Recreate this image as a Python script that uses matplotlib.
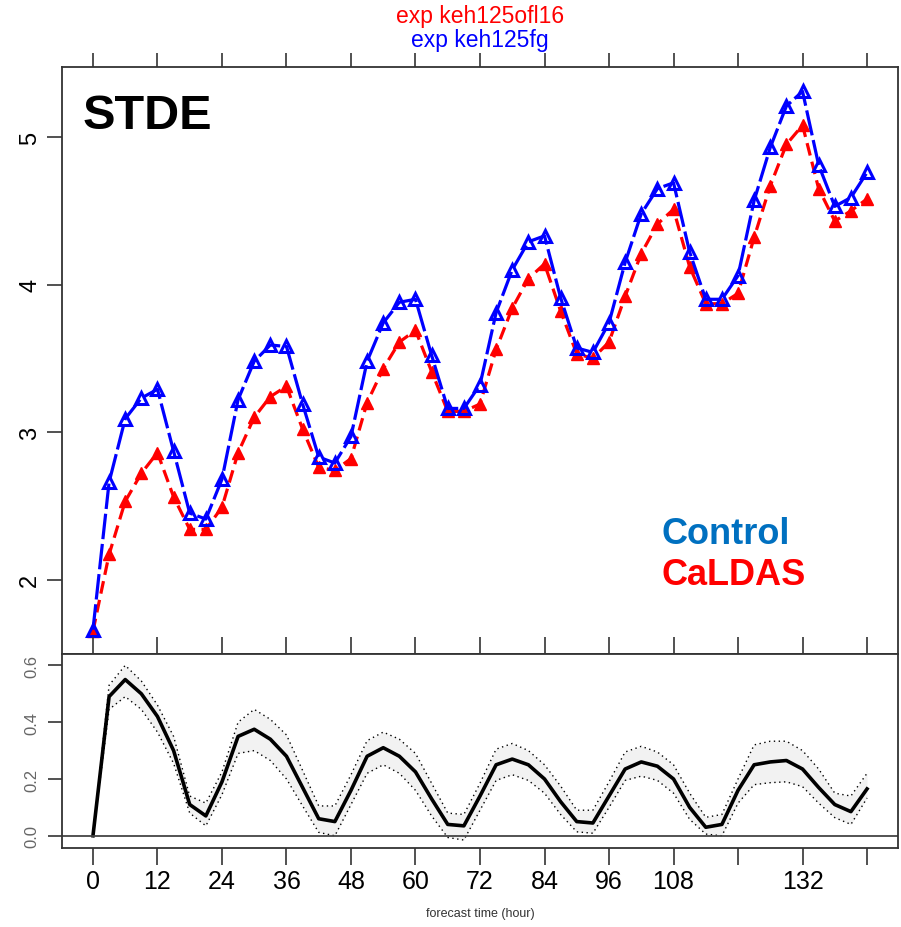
import numpy as np
import matplotlib
matplotlib.use("Agg")
import matplotlib.pyplot as plt

plt.rcParams['font.family'] = ['Liberation Sans', 'DejaVu Sans']

# forecast hours, every 3 h
hours = np.arange(0, 145, 3)

# STDE, control run (keh125fg)
control = [1.66, 2.66, 3.09, 3.23, 3.29, 2.87, 2.45, 2.41, 2.68, 3.22,
           3.48, 3.59, 3.58, 3.19, 2.83, 2.79, 2.97, 3.48, 3.74, 3.88,
           3.90, 3.52, 3.16, 3.16, 3.32, 3.81, 4.10, 4.29, 4.33, 3.91,
           3.57, 3.54, 3.74, 4.15, 4.48, 4.65, 4.69, 4.22, 3.90, 3.90,
           4.06, 4.57, 4.93, 5.21, 5.31, 4.81, 4.53, 4.59, 4.76]

# STDE, CaLDAS run (keh125ofl16)
caldas = [1.65, 2.17, 2.53, 2.72, 2.86, 2.56, 2.34, 2.34, 2.49, 2.86,
          3.10, 3.24, 3.31, 3.02, 2.76, 2.74, 2.82, 3.20, 3.43, 3.61,
          3.69, 3.41, 3.14, 3.14, 3.19, 3.56, 3.84, 4.04, 4.14, 3.82,
          3.53, 3.50, 3.61, 3.92, 4.21, 4.41, 4.51, 4.12, 3.87, 3.87,
          3.94, 4.32, 4.67, 4.95, 5.08, 4.65, 4.43, 4.50, 4.58]

# difference (control - caldas) with confidence bounds
diff = [0.00, 0.49, 0.55, 0.50, 0.42, 0.30, 0.11, 0.07, 0.19, 0.35,
        0.375, 0.34, 0.28, 0.17, 0.06, 0.05, 0.16, 0.28, 0.31, 0.28,
        0.225, 0.13, 0.04, 0.035, 0.14, 0.25, 0.27, 0.25, 0.20, 0.12,
        0.05, 0.045, 0.14, 0.235, 0.26, 0.245, 0.20, 0.10, 0.03, 0.04,
        0.16, 0.25, 0.26, 0.265, 0.235, 0.17, 0.11, 0.085, 0.165]
diff_hi = [0.00, 0.53, 0.60, 0.545, 0.46, 0.35, 0.14, 0.115, 0.225, 0.40,
           0.445, 0.41, 0.355, 0.23, 0.105, 0.105, 0.215, 0.335, 0.365, 0.34,
           0.29, 0.185, 0.08, 0.075, 0.185, 0.305, 0.325, 0.30, 0.25, 0.175,
           0.09, 0.09, 0.19, 0.295, 0.315, 0.295, 0.25, 0.15, 0.065, 0.075,
           0.20, 0.32, 0.333, 0.333, 0.30, 0.235, 0.15, 0.14, 0.22]
diff_lo = [0.00, 0.445, 0.49, 0.445, 0.365, 0.255, 0.08, 0.035, 0.145, 0.29,
           0.30, 0.265, 0.20, 0.105, 0.012, 0.00, 0.11, 0.22, 0.25, 0.22,
           0.16, 0.07, -0.006, -0.015, 0.09, 0.195, 0.215, 0.195, 0.15, 0.075,
           0.014, 0.009, 0.10, 0.195, 0.21, 0.195, 0.15, 0.058, 0.006, 0.00,
           0.115, 0.18, 0.187, 0.19, 0.173, 0.115, 0.064, 0.04, 0.133]

xticks = np.arange(0, 145, 12)
xlabels = ['0', '12', '24', '36', '48', '60', '72', '84', '96', '108', '', '132', '']

frame = '#333333'

fig = plt.figure(figsize=(9.01, 9.28), dpi=100)
ax = fig.add_axes([62/901, 1-655/928, 836/901, 587/928])
ax2 = fig.add_axes([62/901, 1-849/928, 836/901, 194/928])

# ---- top panel
ax.plot(hours, caldas, color='red', lw=2.3, dashes=(4, 2),
        marker='^', ms=9, mfc='red', mec='red', zorder=3)
ax.plot(hours, control, color='blue', lw=2.3, dashes=(8, 1.5),
        marker='^', ms=9, mfc='none', mec='blue', mew=2.2, zorder=4)
ax.set_xlim(-5.76, 149.76)
ax.set_ylim(1.495, 5.475)
ax.set_yticks([2, 3, 4, 5])
ax.set_yticklabels(['2', '3', '4', '5'], rotation=90, va='center', fontsize=17)
ax.tick_params(axis='y', direction='out', length=11, width=1.2, color=frame, pad=4)
ax.set_xticks(xticks)
ax.tick_params(axis='x', bottom=False, labelbottom=False)
top = ax.secondary_xaxis('top')
top.set_xticks(xticks)
top.tick_params(axis='x', direction='out', length=10, width=1.2, color=frame, labeltop=False)
for s in ax.spines.values():
    s.set_color(frame)
    s.set_linewidth(1.3)
top.spines['top'].set_visible(False)

ax.text(0.025, 0.955, 'STDE', transform=ax.transAxes, fontsize=35,
        fontweight='bold', va='top', ha='left')
ax.text(0.717, 0.205, 'Control', transform=ax.transAxes, fontsize=26,
        fontweight='bold', color='#0070C0', va='center')
ax.text(0.717, 0.135, 'CaLDAS', transform=ax.transAxes, fontsize=26,
        fontweight='bold', color='red', va='center')

fig.text(480/901, 1-17/928, 'exp keh125ofl16', color='red', fontsize=16.5,
         ha='center', va='center')
fig.text(480/901, 1-41/928, 'exp keh125fg', color='blue', fontsize=16.5,
         ha='center', va='center')

# ---- bottom panel
ax2.fill_between(hours, diff_lo, diff_hi, color='#f2f2f2', lw=0)
ax2.plot(hours, diff_hi, color='black', lw=1.0, ls=(0, (1, 2.5)))
ax2.plot(hours, diff_lo, color='black', lw=1.0, ls=(0, (1, 2.5)))
ax2.plot(hours, diff, color='black', lw=2.6)
ax2.axhline(0, color='#444444', lw=1.3)
ax2.set_xlim(-5.76, 149.76)
ax2.set_ylim(-0.043, 0.64)
ax2.set_yticks([0.0, 0.2, 0.4, 0.6])
ax2.set_yticklabels(['0.0', '0.2', '0.4', '0.6'], rotation=90, va='center',
                    fontsize=12, color='#666666')
ax2.tick_params(axis='y', direction='out', length=10, width=1.2, color=frame, pad=6)
ax2.set_xticks(xticks)
ax2.set_xticklabels(xlabels, fontsize=18)
ax2.tick_params(axis='x', direction='out', length=12, width=1.2, color=frame,
                top=True, pad=3)
for s in ax2.spines.values():
    s.set_color(frame)
    s.set_linewidth(1.3)
ax2.set_xlabel('forecast time (hour)', fontsize=9, color='#333333', labelpad=10)

fig.savefig('out.png', dpi=100)
